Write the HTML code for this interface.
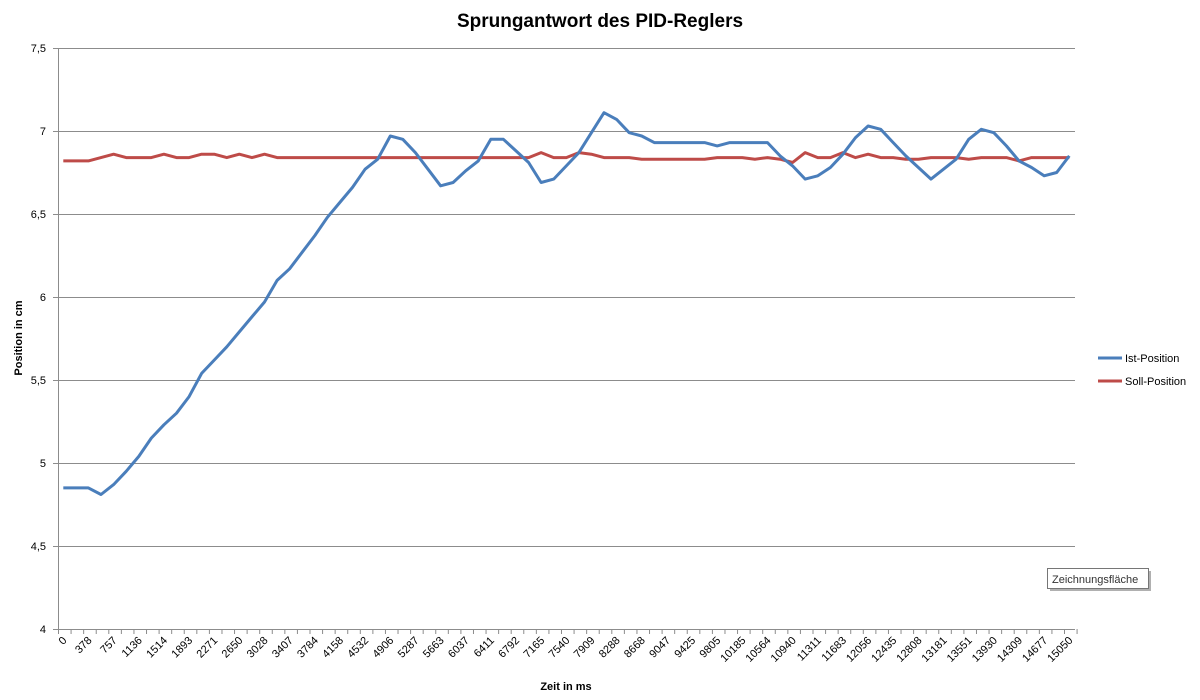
<!DOCTYPE html>
<html><head><meta charset="utf-8"><style>
html,body{margin:0;padding:0;background:#fff;}
svg{display:block;font-family:"Liberation Sans",sans-serif;}
</style></head><body>
<svg id="s" width="1200" height="700" viewBox="0 0 1200 700">
<rect width="1200" height="700" fill="#fff"/>
<text x="600" y="27" text-anchor="middle" font-size="19" font-weight="bold" fill="#000">Sprungantwort des PID-Reglers</text>
<g stroke="#8c8c8c" stroke-width="1">
<line x1="53" y1="48.5" x2="1075" y2="48.5"/>
<line x1="53" y1="131.5" x2="1075" y2="131.5"/>
<line x1="53" y1="214.5" x2="1075" y2="214.5"/>
<line x1="53" y1="297.5" x2="1075" y2="297.5"/>
<line x1="53" y1="380.5" x2="1075" y2="380.5"/>
<line x1="53" y1="463.5" x2="1075" y2="463.5"/>
<line x1="53" y1="546.5" x2="1075" y2="546.5"/>
<line x1="53" y1="629.5" x2="1075" y2="629.5"/>
<line x1="58.5" y1="48" x2="58.5" y2="630"/>
</g>
<g id="ticks" stroke="#8c8c8c" stroke-width="1"></g>
<g font-size="11" fill="#000" text-anchor="end">
<text x="46" y="52">7,5</text>
<text x="46" y="135">7</text>
<text x="46" y="218">6,5</text>
<text x="46" y="301">6</text>
<text x="46" y="384">5,5</text>
<text x="46" y="467">5</text>
<text x="46" y="550">4,5</text>
<text x="46" y="633">4</text>
</g>
<g id="xl" font-size="11" fill="#000" text-anchor="end">
<text>0</text><text>378</text><text>757</text><text>1136</text><text>1514</text><text>1893</text><text>2271</text><text>2650</text><text>3028</text><text>3407</text><text>3784</text><text>4158</text><text>4532</text><text>4906</text><text>5287</text><text>5663</text><text>6037</text><text>6411</text><text>6792</text><text>7165</text><text>7540</text><text>7909</text><text>8288</text><text>8668</text><text>9047</text><text>9425</text><text>9805</text><text>10185</text><text>10564</text><text>10940</text><text>11311</text><text>11683</text><text>12056</text><text>12435</text><text>12808</text><text>13181</text><text>13551</text><text>13930</text><text>14309</text><text>14677</text><text>15050</text>
</g>
<polyline id="red" fill="none" stroke="#be4b48" stroke-width="3" stroke-linejoin="round"/>
<polyline id="blue" fill="none" stroke="#4a7ebb" stroke-width="3" stroke-linejoin="round"/>
<text x="566" y="690" text-anchor="middle" font-size="11" font-weight="bold">Zeit in ms</text>
<text transform="translate(22,338) rotate(-90)" text-anchor="middle" font-size="11" font-weight="bold">Position in cm</text>
<line x1="1098" y1="358" x2="1122" y2="358" stroke="#4a7ebb" stroke-width="3"/>
<text x="1125" y="362" font-size="11">Ist-Position</text>
<line x1="1098" y1="381" x2="1122" y2="381" stroke="#be4b48" stroke-width="3"/>
<text x="1125" y="385" font-size="11">Soll-Position</text>
<rect x="1050" y="571" width="101" height="20" fill="#b0b0b0"/>
<rect x="1047.5" y="568.5" width="101" height="20" fill="#fff" stroke="#767676"/>
<text x="1052" y="583" font-size="11" fill="#333">Zeichnungsfläche</text>
</svg>
<script>
var ns="http://www.w3.org/2000/svg";
function X(i){return 63.3+i*12.575;}
function Y(v){return 48+(7.5-v)*166;}
var t=document.getElementById("ticks");
for(var k=0;k<=81;k++){var x=58.5+k*12.575;var l=document.createElementNS(ns,"line");l.setAttribute("x1",x);l.setAttribute("x2",x);l.setAttribute("y1",629);l.setAttribute("y2",634);t.appendChild(l);}
var xs=document.getElementById("xl").children;
for(var j=0;j<xs.length;j++){var x=X(j*2)+4,y=641;xs[j].setAttribute("transform","translate("+x+","+y+") rotate(-45)");}
var blue=[4.85,4.85,4.85,4.81,4.87,4.95,5.04,5.15,5.23,5.30,5.40,5.54,5.62,5.70,5.79,5.88,5.97,6.10,6.17,6.27,6.37,6.48,6.57,6.66,6.77,6.83,6.97,6.95,6.87,6.77,6.67,6.69,6.76,6.82,6.95,6.95,6.88,6.81,6.69,6.71,
6.79,6.87,6.99,7.11,7.07,6.99,6.97,6.93,6.93,6.93,6.93,6.93,6.91,6.93,6.93,6.93,6.93,6.85,6.79,6.71,6.73,6.78,6.86,6.96,7.03,7.01,6.93,6.85,6.78,6.71,6.77,6.83,6.95,7.01,6.99,6.91,6.82,6.78,6.73,6.75,6.85];
var red=[6.82,6.82,6.82,6.84,6.86,6.84,6.84,6.84,6.86,6.84,6.84,6.86,6.86,6.84,6.86,6.84,6.86,6.84,6.84,6.84,6.84,6.84,6.84,6.84,6.84,6.84,6.84,6.84,6.84,6.84,6.84,6.84,6.84,6.84,6.84,6.84,6.84,6.84,6.87,6.84,
6.84,6.87,6.86,6.84,6.84,6.84,6.83,6.83,6.83,6.83,6.83,6.83,6.84,6.84,6.84,6.83,6.84,6.83,6.81,6.87,6.84,6.84,6.87,6.84,6.86,6.84,6.84,6.83,6.83,6.84,6.84,6.84,6.83,6.84,6.84,6.84,6.82,6.84,6.84,6.84,6.84];
function pts(a){return a.map(function(v,i){return X(i).toFixed(1)+","+Y(v).toFixed(1);}).join(" ");}
document.getElementById("blue").setAttribute("points",pts(blue));
document.getElementById("red").setAttribute("points",pts(red));
</script>
</body></html>
